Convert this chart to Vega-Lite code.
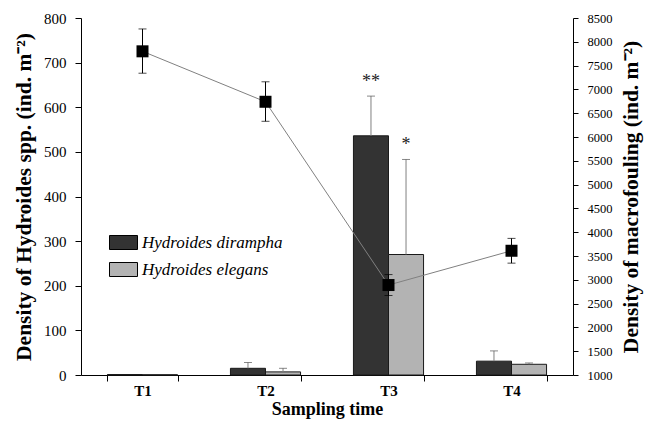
{
  "$schema": "https://vega.github.io/schema/vega-lite/v6.json",
  "width": 492,
  "height": 357,
  "autosize": {"type": "none"},
  "padding": {"left": 81, "top": 18, "right": 80, "bottom": 53},
  "background": "white",
  "config": {
    "font": "Liberation Serif",
    "view": {"stroke": null},
    "axis": {"grid": false, "domainColor": "#000", "tickColor": "#000", "labelColor": "#000", "titleColor": "#000", "labelFont": "Liberation Serif", "titleFont": "Liberation Serif"}
  },
  "datasets": {
    "bars": [
      {"time": "T1", "species": "Hydroides dirampha", "value": 1, "upper": 1, "sig": ""},
      {"time": "T1", "species": "Hydroides elegans", "value": 0.5, "upper": 0.5, "sig": ""},
      {"time": "T2", "species": "Hydroides dirampha", "value": 15, "upper": 28, "sig": ""},
      {"time": "T2", "species": "Hydroides elegans", "value": 7, "upper": 15, "sig": ""},
      {"time": "T3", "species": "Hydroides dirampha", "value": 536, "upper": 625, "sig": "**"},
      {"time": "T3", "species": "Hydroides elegans", "value": 270, "upper": 483, "sig": "*"},
      {"time": "T4", "species": "Hydroides dirampha", "value": 31, "upper": 54, "sig": ""},
      {"time": "T4", "species": "Hydroides elegans", "value": 24, "upper": 27, "sig": ""}
    ],
    "total": [
      {"time": "T1", "total": 7800, "low": 7340, "high": 8270},
      {"time": "T2", "total": 6740, "low": 6330, "high": 7160},
      {"time": "T3", "total": 2890, "low": 2670, "high": 3110},
      {"time": "T4", "total": 3610, "low": 3350, "high": 3870}
    ]
  },
  "encoding": {
    "x": {
      "field": "time", "type": "nominal",
      "scale": {"paddingInner": 0.43, "paddingOuter": 0.215},
      "axis": {"title": "Sampling time", "labelAngle": 0, "labelFontSize": 15, "labelFontWeight": "bold", "titleFontSize": 18, "titleFontWeight": "bold", "tickBand": "extent", "tickSize": 6, "labelPadding": 2, "titlePadding": 2}
    }
  },
  "layer": [
    {
      "data": {"name": "bars"},
      "layer": [
        {
          "mark": {"type": "bar", "stroke": "#1a1a1a", "strokeWidth": 1},
          "encoding": {
            "xOffset": {"field": "species", "type": "nominal", "scale": {"paddingInner": 0, "paddingOuter": 0}},
            "y": {"field": "value", "type": "quantitative", "scale": {"domain": [0, 800], "nice": false},
              "axis": {"title": "Density of Hydroides spp. (ind. m⁻²)", "values": [0,100,200,300,400,500,600,700,800], "labelFontSize": 15, "titleFontSize": 21.5, "titleFontWeight": "bold", "tickSize": 6, "labelPadding": 9, "titlePadding": 8}},
            "fill": {"field": "species", "type": "nominal",
              "scale": {"domain": ["Hydroides dirampha", "Hydroides elegans"], "range": ["#333333", "#b3b3b3"]},
              "legend": {"title": null, "orient": "none", "legendX": 28, "legendY": 210, "symbolType": "M-1,-0.5H1V0.5H-1Z", "symbolSize": 784, "symbolStrokeColor": "#000", "symbolStrokeWidth": 1, "labelFont": "Liberation Serif", "labelFontStyle": "italic", "labelFontSize": 17, "labelColor": "#000", "labelOffset": 4, "rowPadding": 3}}
          }
        },
        {
          "mark": {"type": "rule", "color": "#808080", "strokeWidth": 1},
          "encoding": {
            "xOffset": {"field": "species", "type": "nominal"},
            "y": {"field": "value", "type": "quantitative"},
            "y2": {"field": "upper"}
          }
        },
        {
          "transform": [{"filter": "datum.upper > datum.value"}],
          "mark": {"type": "tick", "color": "#555555", "size": 8, "thickness": 1},
          "encoding": {
            "xOffset": {"field": "species", "type": "nominal"},
            "y": {"field": "upper", "type": "quantitative"}
          }
        },
        {
          "mark": {"type": "text", "fontSize": 18, "dy": -14, "color": "#222", "font": "Liberation Serif"},
          "encoding": {
            "xOffset": {"field": "species", "type": "nominal"},
            "y": {"field": "upper", "type": "quantitative"},
            "text": {"field": "sig"}
          }
        }
      ]
    },
    {
      "data": {"name": "total"},
      "layer": [
        {
          "mark": {"type": "line", "color": "#808080", "strokeWidth": 1},
          "encoding": {
            "y": {"field": "total", "type": "quantitative", "scale": {"domain": [1000, 8500], "nice": false},
              "axis": {"orient": "right", "title": "Density of macrofouling (ind. m⁻²)", "values": [1000,1500,2000,2500,3000,3500,4000,4500,5000,5500,6000,6500,7000,7500,8000,8500], "format": "d", "labelOverlap": false, "labelFontSize": 12.5, "titleFontSize": 21.5, "titleFontWeight": "bold", "titleAngle": 270, "titleBaseline": "top", "tickSize": 5, "labelPadding": 9, "titlePadding": 8}}
          }
        },
        {
          "mark": {"type": "rule", "color": "#000", "strokeWidth": 1},
          "encoding": {
            "y": {"field": "low", "type": "quantitative",
              "axis": {"orient": "right", "title": "Density of macrofouling (ind. m⁻²)", "values": [1000,1500,2000,2500,3000,3500,4000,4500,5000,5500,6000,6500,7000,7500,8000,8500], "format": "d", "labelOverlap": false, "labelFontSize": 12.5, "titleFontSize": 21.5, "titleFontWeight": "bold", "titleAngle": 270, "titleBaseline": "top", "tickSize": 5, "labelPadding": 9, "titlePadding": 8}},
            "y2": {"field": "high"}
          }
        },
        {
          "mark": {"type": "tick", "color": "#000", "size": 8, "thickness": 1},
          "encoding": {"y": {"field": "low", "type": "quantitative",
              "axis": {"orient": "right", "title": "Density of macrofouling (ind. m⁻²)", "values": [1000,1500,2000,2500,3000,3500,4000,4500,5000,5500,6000,6500,7000,7500,8000,8500], "format": "d", "labelOverlap": false, "labelFontSize": 12.5, "titleFontSize": 21.5, "titleFontWeight": "bold", "titleAngle": 270, "titleBaseline": "top", "tickSize": 5, "labelPadding": 9, "titlePadding": 8}}}
        },
        {
          "mark": {"type": "tick", "color": "#000", "size": 8, "thickness": 1},
          "encoding": {"y": {"field": "high", "type": "quantitative",
              "axis": {"orient": "right", "title": "Density of macrofouling (ind. m⁻²)", "values": [1000,1500,2000,2500,3000,3500,4000,4500,5000,5500,6000,6500,7000,7500,8000,8500], "format": "d", "labelOverlap": false, "labelFontSize": 12.5, "titleFontSize": 21.5, "titleFontWeight": "bold", "titleAngle": 270, "titleBaseline": "top", "tickSize": 5, "labelPadding": 9, "titlePadding": 8}}}
        },
        {
          "mark": {"type": "square", "color": "#000", "size": 144, "opacity": 1, "filled": true},
          "encoding": {"y": {"field": "total", "type": "quantitative",
              "axis": {"orient": "right", "title": "Density of macrofouling (ind. m⁻²)", "values": [1000,1500,2000,2500,3000,3500,4000,4500,5000,5500,6000,6500,7000,7500,8000,8500], "format": "d", "labelOverlap": false, "labelFontSize": 12.5, "titleFontSize": 21.5, "titleFontWeight": "bold", "titleAngle": 270, "titleBaseline": "top", "tickSize": 5, "labelPadding": 9, "titlePadding": 8}}}
        }
      ]
    }
  ],
  "resolve": {"scale": {"y": "independent"}}
}
